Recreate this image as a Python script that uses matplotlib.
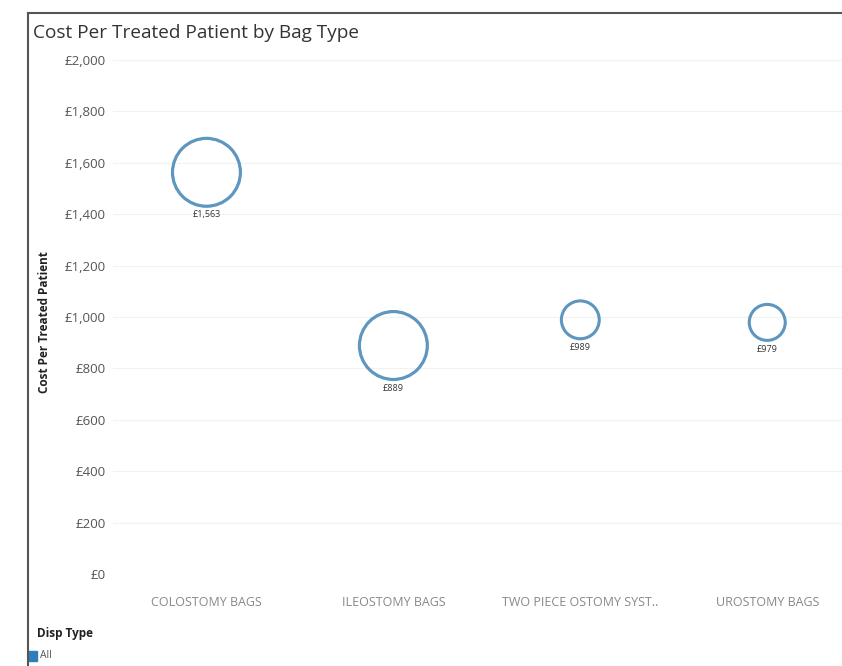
import numpy as np
import matplotlib
matplotlib.use('Agg')
import matplotlib.pyplot as plt
from matplotlib.lines import Line2D
from matplotlib.patches import Rectangle

plt.rcParams['font.family'] = ['Open Sans', 'DejaVu Sans']

# data
bag_types = ['COLOSTOMY BAGS', 'ILEOSTOMY BAGS', 'TWO PIECE OSTOMY SYST..', 'UROSTOMY BAGS']
cost_per_patient = [1563, 889, 989, 979]
cost_labels = ['£1,563', '£889', '£989', '£979']
bubble_size = [100, 100, 31, 28]   # relative bubble area
y_ticks = [0, 200, 400, 600, 800, 1000, 1200, 1400, 1600, 1800, 2000]

fig = plt.figure(figsize=(8.42, 6.66), dpi=100)
ax = fig.add_axes([113 / 842, 1 - 574 / 666, 1 - 113 / 842, (574 - 60) / 666])

x = np.arange(len(bag_types))
s = np.array(bubble_size) * 24.0
ax.scatter(x, cost_per_patient, s=s, facecolors='none', edgecolors='#5b98c4',
           linewidths=2.2, zorder=3)
ax.scatter(x, cost_per_patient, s=s * 0.93, facecolors='none', edgecolors='#6d8ea6',
           linewidths=0.6, alpha=0.6, zorder=4)

for xi, yi, lab, si in zip(x, cost_per_patient, cost_labels, s):
    off = np.sqrt(si) / 2 + 3
    ax.annotate(lab, (xi, yi), xytext=(0, -off), textcoords='offset points',
                ha='center', va='top', fontsize=6.5, color='#333333')

ax.set_xlim(-0.5, 3.4)
ax.set_ylim(0, 2000)
ax.set_yticks(y_ticks)
ax.set_yticklabels(['£{:,}'.format(v) for v in y_ticks], fontsize=9.5, color='#555555')
ax.set_xticks(x)
ax.set_xticklabels(bag_types, fontsize=9, color='#888888')
ax.tick_params(axis='y', length=0, pad=5)
ax.tick_params(axis='x', length=0, pad=16)
ax.grid(axis='y', color='#f2f2f2', linewidth=0.8, zorder=0)
for sp in ax.spines.values():
    sp.set_visible(False)

fig.text(45 / 842, 1 - 322 / 666, 'Cost Per Treated Patient', rotation=90,
         ha='center', va='center', fontsize=8.5, fontweight='bold', color='#222222')

fig.text(33 / 842, 1 - 33 / 666, 'Cost Per Treated Patient by Bag Type',
         ha='left', va='center', fontsize=13.7, color='#333333')

# border of the dashboard sheet
fig.add_artist(Line2D([28 / 842, 28 / 842], [0, 1 - 13 / 666], color='#555555', linewidth=1.5))
fig.add_artist(Line2D([28 / 842, 1], [1 - 13 / 666, 1 - 13 / 666], color='#555555', linewidth=1.5))

# legend
fig.text(37 / 842, 1 - 634 / 666, 'Disp Type', ha='left', va='center',
         fontsize=8.5, fontweight='bold', color='#222222')
fig.add_artist(Rectangle((28 / 842, 1 - 661 / 666), 9 / 842, 10 / 666,
                         transform=fig.transFigure, color='#2f7ebc'))
fig.text(40 / 842, 1 - 656 / 666, 'All', ha='left', va='center',
         fontsize=7.5, color='#555555')

fig.savefig('out.png', dpi=100)
